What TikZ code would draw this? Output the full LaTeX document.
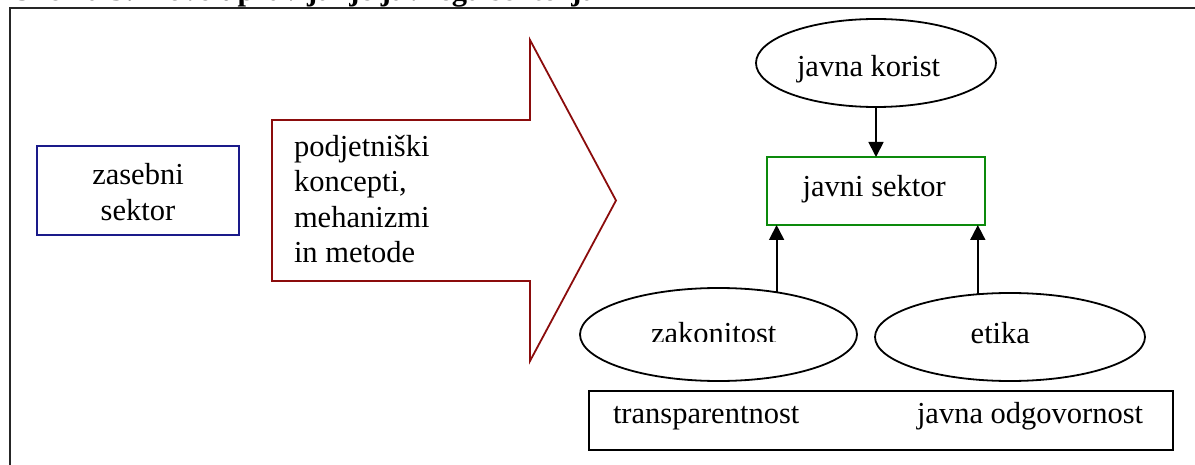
\documentclass[tikz,border=0pt]{standalone}
\usepackage{fontspec}
\setmainfont{Liberation Serif}
\usetikzlibrary{arrows.meta,shapes.geometric,calc}
\definecolor{boxnavy}{HTML}{1A1A8A}
\definecolor{arrowred}{HTML}{8B0C0C}
\definecolor{boxgreen}{HTML}{0C8A0C}
\begin{document}
\begin{tikzpicture}[x=1pt,y=-1pt,
  font=\fontsize{30.5}{35.5}\selectfont,
  shapeline/.style={line width=1.8pt},
  rectbox/.style={draw, shapeline, rectangle, inner sep=0pt, outer sep=0pt, anchor=north west},
  oval/.style={draw, shapeline, ellipse, inner sep=0pt, outer sep=0pt},
  txt/.style={anchor=base west, inner sep=0pt, outer sep=0pt},
  linkarrow/.style={line width=1.8pt, -{Triangle[width=15pt,length=15pt]}}]
\useasboundingbox (0,0) rectangle (1195,465);

% caption line, only its lower edge falls inside the page
\node[txt, font=\fontsize{30.5}{35.5}\selectfont\bfseries] (caption) at (14,0.6)
  {Shema 3: Novo upravljanje javnega sektorja};

% outer frame
\draw[line width=2.2pt, black!85] (10,470) -- (10,8) -- (1200,8);

% private sector
\node[rectbox, draw=boxnavy, minimum width=202pt, minimum height=89pt] (zasebni) at (37,146) {};
\node[txt, anchor=base, align=center] (zasebnitxt) at (138,220.5) {zasebni\\sektor};

% transfer arrow
\draw[arrowred, shapeline, line join=miter]
  (272,120) coordinate (shaftA) -- (530,120) -- (530,40) -- (616,200.5) coordinate (tip)
  -- (530,361) -- (530,281) -- (272,281) -- cycle;
\node[txt, align=left] (metode) at (294,262.5) {podjetniški\\koncepti,\\mehanizmi\\in metode};

% public benefit
\node[oval, minimum width=240pt, minimum height=88pt] (korist) at (876,63) {};
\node[txt] (koristtxt) at (797,76.7) {javna korist};

% public sector
\node[rectbox, draw=boxgreen, minimum width=218pt, minimum height=68pt] (sektor) at (767,157) {};
\node[txt] (sektortxt) at (802.7,196.7) {javni sektor};

% legality and ethics
\node[oval, minimum width=277pt, minimum height=93pt] (zak) at (718.5,334.5) {};
\begin{scope}
  \clip (600,300) rectangle (840,341.2);
  \node[txt] (zaktxt) at (651,343) {zakonitost};
\end{scope}
\node[oval, minimum width=270pt, minimum height=88pt] (etika) at (1010,337) {};
\node[txt] (etikatxt) at (970.7,343) {etika};

% transparency and accountability
\node[rectbox, minimum width=584pt, minimum height=59pt] (odg) at (589,391) {};
\node[txt] (transtxt) at (613,423) {transparentnost};
\node[txt] (odgtxt) at (917,423) {javna odgovornost};

% connectors
\draw[linkarrow] (korist.south) -- (korist.south |- sektor.north);
\draw[linkarrow] (zak.36.8) -- (zak.36.8 |- sektor.south);
\draw[linkarrow] (etika.127) -- (etika.127 |- sektor.south);
\end{tikzpicture}
\end{document}
